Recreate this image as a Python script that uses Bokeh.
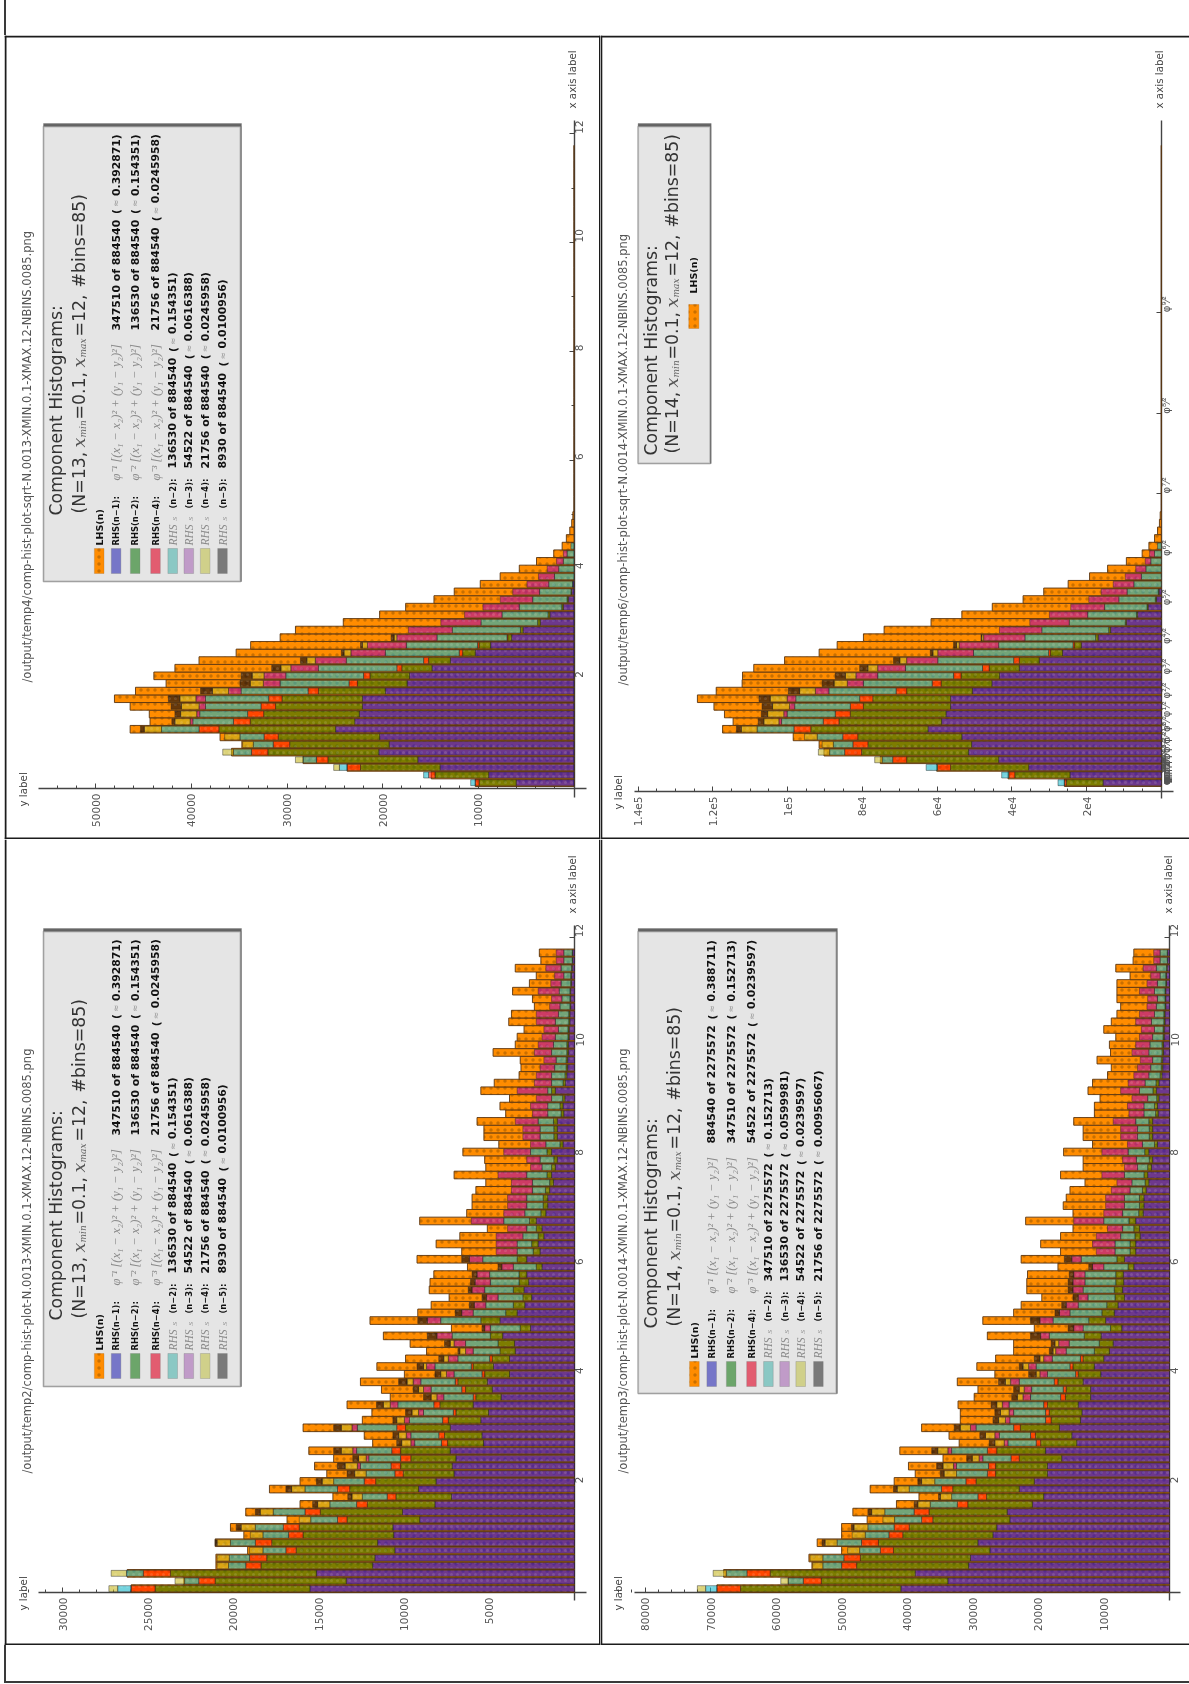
import numpy as np
from bokeh.plotting import figure
from bokeh.layouts import column, row
from bokeh.models import (Range1d, LinearAxis, FixedTicker, Label, BoxAnnotation, Span, Div, Spacer)
from bokeh.embed import file_html
from bokeh.resources import INLINE

# ---------- data: bar tops per series, in reading units (see *_unit = counts) ----------
N_BINS = 84
BIN_W = 0.1403

tl_unit = 40
tl_lhs = [258,373,593,708,895,868,925,1160,1108,1110,1160,1201,1146,1066,1098,1043,980,883,845,768,728,603,508,440,366,313,245,193,143,98,53,31,20,11,6,3]
tl_rhs1 = [151,223,350,408,510,483,508,623,573,561,553,553,493,436,430,371,323,258,218,163,133,88,63,28,15,6,3]
tl_rhs2 = [248,363,558,643,800,743,773,928,846,811,780,763,668,566,533,450,380,291,248,173,140,95,68,32,18,8,4]
tl_rhs4 = [258,380,593,673,843,786,810,980,890,853,818,798,695,588,550,463,393,300,252,175]
tl_s2 = [270,393,613,708,890,838,873,1078,996,978,963,963,870,768,753,668,595,493,438,358,318,243,188,143,108,90,66,51,40,28,18,8]
tl_s3 = [270,393,613,708,890,838,873,1078,1003,986,980,988,903,812,810,740,676,583,540,463,433,348,286,238,193,160,123,93,70,46,28]
tl_s4 = [270,393,628,728,918,866,913,1123,1043,1028,1026,1030,945,846,841,766,698,601,553,470]
tl_s5 = [270,393,628,728,918,866,913,1133,1051,1043,1053,1060,976,873,870,790,715,608,558,478]

tr_unit = 100.5
tr_lhs = [258,408,598,748,898,911,980,1168,1140,1163,1191,1235,1185,1116,1115,1085,1003,911,863,793,738,613,531,450,368,313,248,191,143,93,51,33,18,10,5,3]
tr_rhs1 = [155,243,353,433,513,505,531,621,585,573,561,561,503,451,431,378,325,263,213,168,135,93,63,35,13,6]
tr_rhs2 = [253,390,561,678,798,781,808,933,858,828,793,768,678,586,533,458,378,295,231,175,140,96,66,38,16,8]
tr_rhs4 = [258,406,596,715,843,821,848,978,900,868,828,803,706,610,553,476,393,300,235]
tr_s2 = [275,425,626,743,883,873,916,1076,1011,996,976,973,885,793,755,681,595,500,433,363,318,245,196,151,113,91,73,53,41,28,18,10]
tr_s3 = [275,425,626,743,883,873,916,1076,1018,1005,990,996,921,836,813,755,678,595,538,473,431,350,298,241,193,160,128,96,68,43,31]
tr_s4 = [275,425,626,763,913,903,950,1118,1058,1048,1035,1041,963,871,841,781,696,608,545,478]
tr_s5 = [275,425,626,763,913,903,950,1131,1073,1065,1063,1071,993,903,868,803,713,615,553,480]

bl_unit = 22.4
bl_lhs = [1160,1022,1170,938,938,855,940,865,900,752,860,718,632,798,718,648,680,630,695,528,550,710,555,530,595,482,505,560,445,517,442,387,430,500,322,535,410,375,328,380,378,368,280,412,
          295,362,300,228,405,282,268,268,258,232,315,232,235,292,198,237,237,255,180,195,170,245,210,145,140,142,213,155,150,132,172,165,105,110,162,118,100,155,88,92]
bl_rhs1 = [692,597,675,528,522,470,515,473,475,405,450,365,322,408,362,315,320,310,325,238,242,325,245,225,265,192,215,228,170,212,170,155,157,188,115,195,150,130,112,132,120,125,85,125,
           90,95,80,85,100,75,70,70,65,55,60,50,45,60,30,45,45,45,28,30,25,50,24,20,18,18,16,16,14,14,12,12,10,10,10,8,8,6,5,5]
bl_rhs2 = [1097,940,1057,820,805,728,792,710,720,595,665,542,467,588,520,448,455,428,455,332,340,442,330,310,352,258,285,305,235,265,215,195,200,220,142,245,180,160,135,160,145,145,100,150,
           108,112,95,100,118,88,82,82,76,65,72,60,54,72,38,54,54,55,35,38,31,60,30,25,22,22,20,20,17,17,15,15,12,12,12,10,10,8,6,6]
bl_rhs4 = [1160,983,1128,860,850,755,835,748,762,620,705,570,490,620,550,470,480,455,478,348,355,465,345,317,368,265,295,312,242,270,222]
bl_s2 = [1195,1020,1172,905,903,815,900,815,835,690,788,640,555,705,630,545,560,538,570,418,428,568,432,395,462,342,375,402,315,365,305,265,285,320,220,350,265,232,200,235,220,222,160,240,
         150,150,135,125,185,130,125,125,110,110,125,85,90,115,75,90,90,95,70,70,60,70,60,60,52,48,60,55,50,42,50,42,38,33,40,35,28,35,28,28]
bl_s3 = [0]*16 + [568,545,580,428,440,582,445,408,482,360,395,422,335,387,330,285,315,360,235,385,295,262,230,268,260,255,190,275,
                  205,205,205,175,270,185,175,175,165,165,200,115,125,185,115,135,135,155,110,115,100,150,105,100,90,80,105,95,85,80,100,100,65,60,95,62,52,75,48,48]
bl_s4 = [1218,1045,1212,935,935,850,935,848,872,720,822,672,582,740,660,575,600,565,610,452,460,610,465,425,500,375,408,438,350,395,342,300,325]
bl_s5 = [0]*6 + [940,0,885,0,835,685,593,755,675,595,620,580,630,465,475,630,475,442,518,395,422,460,365,412,355,305,340,385,242,410,312,275,242,278,272,268,200,295]

br_unit = 57.3
br_lhs = [1205,1015,1187,952,960,873,938,873,873,805,843,727,667,797,733,677,695,603,718,560,587,660,557,557,563,520,510,565,465,513,463,415,415,485,360,497,415,395,340,380,380,378,297,395,
          290,343,290,257,383,257,283,275,265,225,290,230,230,282,205,230,230,255,200,200,185,217,205,165,155,193,157,160,143,175,155,140,130,140,140,140,105,143,97,95]
br_rhs1 = [715,590,677,535,530,478,510,470,460,425,432,365,335,400,360,325,325,287,330,247,260,293,237,233,243,210,210,230,183,200,175,160,150,182,127,170,147,137,120,125,122,123,95,120,
           90,90,78,80,90,70,68,68,62,55,58,48,45,55,32,45,45,45,30,32,28,35,28,20,18,18,16,16,14,14,12,12,10,10,10,8,8,6,5,5]
br_rhs2 = [1142,927,1063,833,823,735,775,710,693,630,640,537,487,577,515,463,463,400,460,343,357,397,315,320,325,277,275,297,243,257,230,200,187,227,157,215,180,167,145,147,143,143,110,140,
           105,105,92,95,108,82,80,80,72,65,68,58,54,66,40,54,54,55,37,40,34,44,36,25,22,22,20,20,17,17,15,15,12,12,12,10,10,8,6,6]
br_rhs4 = [1205,975,1125,873,867,770,820,747,733,660,680,565,510,607,542,485,482,422,485,355,370,415,330,330,335,290,283,307,250,265,237]
br_s2 = [1235,1015,1180,923,923,825,885,810,803,732,758,637,580,693,625,567,567,497,580,430,453,515,425,415,427,370,367,400,325,355,312,275,267,320,230,310,265,243,217,230,225,225,175,235,
         145,145,130,125,175,125,120,120,105,100,120,85,88,110,72,85,85,90,68,68,58,80,65,55,50,45,55,52,45,40,48,40,35,32,40,32,25,35,25,25]
br_s3 = [0]*16 + [575,507,590,440,465,530,437,427,445,390,387,423,345,375,335,303,295,343,255,345,293,275,243,257,257,255,205,260,
                  195,205,195,165,255,175,170,170,155,140,180,120,125,180,112,130,130,150,108,112,100,130,110,95,85,78,100,90,80,75,90,80,60,58,80,60,50,70,42,42]
br_s4 = [1257,1035,1215,950,957,857,917,845,840,763,793,670,610,725,660,600,603,525,617,465,490,557,455,450,460,405,400,437,355,390,345,310,305]
br_s5 = [0]*6 + [925,0,847,0,803,680,615,735,670,610,620,540,633,480,505,573,470,465,475,420,415,455,375,400,360,320,315,370,270,370,305,287,257,270,270,267,215,280]

series_colors = ["#0d00e9", "#267300", "#ff1700", "#16b6c8", "#ac07a7", "#c5b621", "#000011"]
swatch_colors = ["#ff8c00", "#7676c8", "#6ca56a", "#e25c70", "#8ac8c4", "#c09bc8", "#d0d08a", "#7a7a7a"]

row_names = ["RHS(n\u22121):", "RHS(n\u22122):", "RHS(n\u22124):"]
s_names = ["(n\u22122):", "(n\u22123):", "(n\u22124):", "(n\u22125):"]
math_text = ["\u03c6\u207b\u00b9 [(x\u2081 \u2212 x\u2082)\u00b2 + (y\u2081 \u2212 y\u2082)\u00b2]",
             "\u03c6\u207b\u00b2 [(x\u2081 \u2212 x\u2082)\u00b2 + (y\u2081 \u2212 y\u2082)\u00b2]",
             "\u03c6\u207b\u00b3 [(x\u2081 \u2212 x\u2082)\u00b2 + (y\u2081 \u2212 y\u2082)\u00b2]"]
n13_nums = [("347510 of 884540", "0.392871)"), ("136530 of 884540", "0.154351)"), ("21756 of 884540", "0.0245958)"),
            ("136530 of 884540", "0.154351)"), ("54522 of 884540", "0.0616388)"), ("21756 of 884540", "0.0245958)"),
            ("8930 of 884540", "0.0100956)")]
n14_nums = [("884540 of 2275572", "0.388711)"), ("347510 of 2275572", "0.152713)"), ("54522 of 2275572", "0.0239597)"),
            ("347510 of 2275572", "0.152713)"), ("136530 of 2275572", "0.0599981)"), ("54522 of 2275572", "0.0239597)"),
            ("21756 of 2275572", "0.00956067)")]
phi_powers = list(range(9, -17, -1))

SUP = {"0":"\u2070","1":"\u00b9","2":"\u00b2","3":"\u00b3","4":"\u2074","5":"\u2075","6":"\u2076","7":"\u2077","8":"\u2078","9":"\u2079","-":"\u207b"}
def phi_label(k):
    return "\u03c6" + "".join(SUP[c] for c in str(k)) + "\u2044\u00b2"

INK = "#444444"
RULE = "#1c1c1c"

def tops_of(unit, *series):
    out, prev = [], np.zeros(N_BINS)
    for s in series:
        a = np.zeros(N_BINS)
        a[:len(s)] = s
        a = np.maximum(prev, a * unit)
        out.append(a)
        prev = a
    return out

def panel(cell, zero_x, px_per, zero_y, px_per_x, axis_py, h_ext, v_ext, lhs, tops, unit,
          yticks, yminor, ylabels, xticks, xminor, xlabels, xfont,
          path, path_x, path_y, xlab_x, ylab_x, rules):
    left, top, right, bottom = cell
    dx = lambda px: (zero_x - px) / px_per
    dy = lambda py: (zero_y - py) / px_per_x
    p = figure(width=right-left, height=bottom-top, x_range=Range1d(dx(left), dx(right)),
               y_range=Range1d(dy(bottom), dy(top)), toolbar_location=None, output_backend="svg",
               x_axis_location=None, y_axis_location=None, min_border=0, min_border_left=0, min_border_right=0,
               min_border_top=0, min_border_bottom=0, outline_line_color=None,
               styles={"filter": "blur(0.55px)"})
    p.grid.visible = False
    # axes
    h = LinearAxis(ticker=FixedTicker(ticks=yticks, minor_ticks=yminor), fixed_location=dy(axis_py),
                   bounds=(dx(h_ext[1]), dx(h_ext[0])), major_label_overrides=ylabels,
                   major_label_orientation=np.pi/2)
    v = LinearAxis(ticker=FixedTicker(ticks=xticks, minor_ticks=xminor), fixed_location=0,
                   bounds=(dy(v_ext[0]), dy(v_ext[1])), major_label_overrides=xlabels,
                   major_label_orientation=np.pi/2)
    for ax, fs in ((h, "10.5px"), (v, xfont)):
        ax.axis_line_color = INK; ax.axis_line_width = 1.4
        ax.major_tick_line_color = INK; ax.minor_tick_line_color = INK
        ax.major_tick_in = 5; ax.major_tick_out = 0; ax.minor_tick_in = 3; ax.minor_tick_out = 0
        ax.major_label_text_color = "#555555"; ax.major_label_text_font = "DejaVu Sans"
        ax.major_label_text_font_size = fs; ax.major_label_standoff = 5
        ax.level = "underlay"
    p.add_layout(h, "below"); p.add_layout(v, "right")
    # bars
    edges = np.arange(N_BINS) * BIN_W
    L = np.zeros(N_BINS); L[:len(lhs)] = np.array(lhs) * unit
    p.quad(left=np.zeros(N_BINS), right=L, bottom=edges, top=edges+BIN_W, fill_color="#ff8c00", line_color="#5a3612",
           line_width=0.9, hatch_pattern="dot", hatch_color="#c96f00", hatch_scale=7, hatch_weight=1.6)
    inset = BIN_W * 0.11
    prev = np.zeros(N_BINS)
    for t, c in zip(tops, series_colors):
        m = t > prev
        p.quad(left=prev[m], right=t[m], bottom=edges[m]+inset, top=edges[m]+BIN_W-inset, fill_color=c, fill_alpha=0.6,
               line_color="#222222", line_alpha=0.55, line_width=0.8, hatch_pattern="dot", hatch_color="#ffffff",
               hatch_alpha=0.12, hatch_scale=6, hatch_weight=1)
        prev = t
    # labels
    def txt(px, py, s, size, color="#555555", style="normal", font="DejaVu Sans"):
        p.add_layout(Label(x=dx(px), y=dy(py), text=s, angle=90, angle_units="deg", text_align="left",
                           text_baseline="middle", text_font_size=f"{size}px", text_color=color,
                           text_font_style=style, text_font=font))
    txt(path_x, path_y, path, 11.5, "#555555")
    txt(xlab_x, 108 if top < 100 else 913, "x axis label", 10.3, "#444444")
    txt(ylab_x, axis_py + 18, "y label", 10.3, "#444444")
    # table rules
    for loc, dim in rules:
        val = dx(loc) if dim == "height" else dy(loc)
        p.add_layout(Span(location=val, dimension=dim, line_color=RULE, line_width=2))
    p._dx, p._dy, p._txt = dx, dy, txt
    return p

def title(txt, t1_x, t1_y, t2_x, t2_y, n):
    txt(t1_x, t1_y, "Component Histograms:", 17.3, "#333333")
    y = t2_y
    txt(t2_x, y, f"(N={n}, ", 17.3, "#333333"); y -= 66
    txt(t2_x, y, "x", 17.5, "#555555", "italic", "DejaVu Serif"); y -= 10
    txt(t2_x + 4, y, "min", 9, "#666666", "italic", "DejaVu Serif"); y -= 18
    txt(t2_x, y, "=0.1, ", 17.3, "#333333"); y -= 52
    txt(t2_x, y, "x", 17.5, "#555555", "italic", "DejaVu Serif"); y -= 10
    txt(t2_x + 4, y, "max", 9, "#666666", "italic", "DejaVu Serif"); y -= 21
    txt(t2_x, y, "=12,", 17.3, "#333333"); y -= 49
    txt(t2_x, y, "#bins=85)", 17.3, "#333333")

def legend(p, box, y0, t1_x, t2_x, xs, n, nums, sw_w=9.6):
    dx, dy, txt = p._dx, p._dy, p._txt
    bl_, bt, br_, bb = box
    p.add_layout(BoxAnnotation(left=dx(bl_), right=dx(br_+1), top=dy(bt-3), bottom=dy(bb), fill_color="#666666", fill_alpha=1,
                               line_color="#666666", line_width=1))
    p.add_layout(BoxAnnotation(left=dx(bl_), right=dx(br_), top=dy(bt), bottom=dy(bb), fill_color="#e5e5e5", fill_alpha=1,
                               line_color="#555555", line_width=2))
    title(txt, t1_x, y0 - 58, t2_x, y0 - 60, n)
    for i, (x, col) in enumerate(zip(xs, swatch_colors)):
        p.add_layout(BoxAnnotation(left=dx(x-sw_w/2), right=dx(x+sw_w/2), top=dy(y0-25), bottom=dy(y0), fill_color=col,
                                   fill_alpha=1, line_color="#a06a30" if i == 0 else "#777777", line_width=1,
                                   hatch_pattern="dot" if i == 0 else None, hatch_color="#c96f00", hatch_scale=7))
        if i == 0:
            txt(x, y0-28, "LHS(n)", 9.5, "#111111", "bold")
            continue
        j = i - 1
        if j < len(row_names):
            txt(x, y0-28, row_names[j], 8.4, "#111111", "bold")
            txt(x, y0-93, math_text[j], 12.6, "#8a8a8a", "italic", "Liberation Serif")
            ystart = y0 - 243
        else:
            txt(x, y0-28, "RHS", 11.5, "#8a8a8a", "italic", "Liberation Serif")
            txt(x+2, y0-53, "S", 7, "#8a8a8a", "italic", "Liberation Serif")
            txt(x, y0-65, s_names[j-3], 8.4, "#111111", "bold")
            ystart = y0 - 105
        a, b = nums[j]
        w = sum(c.isdigit() for c in a) * 7.3 + 26
        txt(x, ystart, a, 10.9, "#111111", "bold")
        txt(x, ystart - w - 3, "(", 10.4, "#111111", "bold")
        txt(x, ystart - w - 10, "\u2248", 9, "#999999")
        txt(x, ystart - w - 21, b, 10.8, "#111111", "bold")
    return p

# ---------- panels ----------
x_ticks = [2, 4, 6, 8, 10, 12]
x_minor = [1, 3, 5, 7, 9, 11]
left_rows = [98.7, 115.6, 134.7, 155, 172.2, 188.3, 204.7, 222]
right_rows = [693.9, 711.2, 730.7, 751, 767.9, 784.1, 800.2, 817.9]

tl = panel((4, 35, 600, 839), 573.5, 95.66/10000, 786, 54.4, 788, (38, 585.5), (797, 120), tl_lhs,
           tops_of(tl_unit, tl_rhs1, tl_rhs2, tl_rhs4, tl_s2, tl_s3, tl_s4, tl_s5), tl_unit,
           [10000, 20000, 30000, 40000, 50000], [i*2000 for i in range(1, 28) if i % 5],
           {}, x_ticks, x_minor, {}, "10.5px",
           "/output/temp4/comp-hist-plot-sqrt-N.0013-XMIN.0.1-XMAX.12-NBINS.0085.png", 26.8, 682, 571, 22,
           [(5, "height"), (599.5, "height"), (36, "width"), (838, "width")])
legend(tl, (43, 126, 240, 581), 573, 55.5, 78.4, left_rows, 13, n13_nums)

tr = panel((600, 35, 1189, 839), 1160.8, 74.75/20000, 786, 54.4, 791, (633.8, 1172.9), (798, 120), tr_lhs,
           tops_of(tr_unit, tr_rhs1, tr_rhs2, tr_rhs4, tr_s2, tr_s3, tr_s4, tr_s5), tr_unit,
           [20000, 40000, 60000, 80000, 100000, 120000, 140000], [i*5000 for i in range(1, 29) if i % 4],
           {20000: "2e4", 40000: "4e4", 60000: "6e4", 80000: "8e4", 100000: "1e5", 120000: "1.2e5", 140000: "1.4e5"},
           [float(1.618034 ** (k/2)) for k in phi_powers], [],
           {float(1.618034 ** (k/2)): phi_label(k) for k in phi_powers}, "10px",
           "/output/temp6/comp-hist-plot-sqrt-N.0014-XMIN.0.1-XMAX.12-NBINS.0085.png", 622.5, 685, 1158.6, 617,
           [(600.8, "height"), (36, "width"), (838, "width")])
# legend for the upper right panel holds just the LHS row
dx, dy, txt = tr._dx, tr._dy, tr._txt
tr.add_layout(BoxAnnotation(left=dx(637.6), right=dx(710.7), top=dy(123), bottom=dy(463), fill_color="#666666", fill_alpha=1, line_color="#666666"))
tr.add_layout(BoxAnnotation(left=dx(637.6), right=dx(709.7), top=dy(126), bottom=dy(463), fill_color="#e5e5e5", fill_alpha=1, line_color="#555555", line_width=2))
title(txt, 650, 455, 671.4, 453, 14)
tr.add_layout(BoxAnnotation(left=dx(688.3), right=dx(698.4), top=dy(304), bottom=dy(328), fill_color=swatch_colors[0], fill_alpha=1,
                            line_color="#a06a30", hatch_pattern="dot", hatch_color="#c96f00", hatch_scale=7))
txt(693, 293, "LHS(n)", 9.5, "#111111", "bold")

bl = panel((4, 839, 600, 1645), 574, 85.33/5000, 1592, 54.6, 1592, (38, 585.5), (1600, 925), bl_lhs,
           tops_of(bl_unit, bl_rhs1, bl_rhs2, bl_rhs4, bl_s2, bl_s3, bl_s4, bl_s5), bl_unit,
           [5000, 10000, 15000, 20000, 25000, 30000], [i*1000 for i in range(1, 33) if i % 5],
           {}, x_ticks, x_minor, {}, "10.5px",
           "/output/temp2/comp-hist-plot-N.0013-XMIN.0.1-XMAX.12-NBINS.0085.png", 26.8, 1473, 571, 22,
           [(5, "height"), (599.5, "height"), (1644, "width")])
legend(bl, (43, 931, 240, 1386), 1378, 55.5, 78.4, left_rows, 13, n13_nums)

br = panel((600, 839, 1189, 1645), 1169, 65.55/10000, 1592, 54.6, 1592, (633.8, 1180.4), (1600, 925), br_lhs,
           tops_of(br_unit, br_rhs1, br_rhs2, br_rhs4, br_s2, br_s3, br_s4, br_s5), br_unit,
           [10000, 20000, 30000, 40000, 50000, 60000, 70000, 80000], [i*2000 for i in range(1, 43) if i % 5],
           {}, x_ticks, x_minor, {}, "10.5px",
           "/output/temp3/comp-hist-plot-N.0014-XMIN.0.1-XMAX.12-NBINS.0085.png", 622.5, 1473, 1167, 617,
           [(600.8, "height"), (1644, "width")])
legend(br, (637.6, 931, 835.9, 1393), 1386, 650.7, 673.2, right_rows, 14, n14_nums)

top_strip = Div(text='<div style="width:1180px;height:35px;border-left:2px solid #3a3a3a;box-sizing:border-box"></div>',
                width=1185, height=35, margin=0)
bot_strip = Div(text='<div style="width:1185px;height:38px;border-left:2px solid #3a3a3a;border-bottom:2px solid #3a3a3a;box-sizing:border-box"></div>',
                width=1185, height=38, margin=0)

page = column(row(Spacer(width=4, height=35, margin=0), top_strip, spacing=0, margin=0),
              row(Spacer(width=4, height=804, margin=0), tl, tr, spacing=0, margin=0),
              row(Spacer(width=4, height=806, margin=0), bl, br, spacing=0, margin=0),
              row(Spacer(width=4, height=38, margin=0), bot_strip, spacing=0, margin=0),
              spacing=0, margin=0)

open("out.html", "w").write(file_html(page, INLINE))
